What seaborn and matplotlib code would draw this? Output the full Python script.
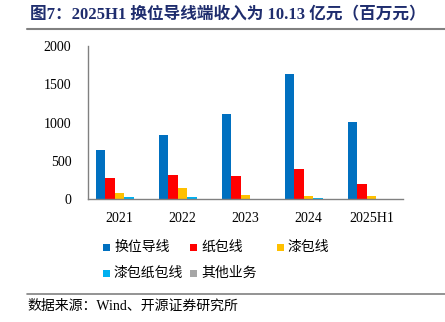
import matplotlib
matplotlib.use("Agg")
import matplotlib.pyplot as plt
import seaborn as sns
import pandas as pd
import numpy as np
from matplotlib.patches import Rectangle
from matplotlib.lines import Line2D

years = ["2021", "2022", "2023", "2024", "2025H1"]
series = ["换位导线", "纸包线", "漆包线", "漆包纸包线", "其他业务"]
v_huanwei = [637, 834, 1109, 1633, 1013]
v_zhibao = [271, 310, 297, 389, 201]
v_qibao = [79, 140, 48, 39, 35]
v_qbzb = [22, 30, 3, 13, 2]
v_other = [2, 2, 1, 1, 1]
colors = ["#0070C0", "#FF0000", "#FFC000", "#00B0F0", "#A6A6A6"]

values = [v_huanwei, v_zhibao, v_qibao, v_qbzb, v_other]
rows = []
for s, vals in zip(series, values):
    for y, v in zip(years, vals):
        rows.append({"year": y, "series": s, "value": v})
df = pd.DataFrame(rows)

sns.set_style("white")
CJK = ["Noto Sans CJK SC", "DejaVu Sans"]
SERIF_CJK = ["Liberation Serif", "Noto Sans CJK SC"]
plt.rcParams["font.family"] = CJK

W, H = 445, 322
fig = plt.figure(figsize=(W / 100, H / 100), dpi=100)
ax = fig.add_axes([88 / W, 1 - 199 / H, (403 - 88) / W, (199 - 46) / H])

sns.barplot(data=df, x="year", y="value", hue="series", order=years,
            hue_order=series, palette=colors, width=0.76, gap=0,
            saturation=1, linewidth=0, ax=ax, legend=False, errorbar=None)

ax.set_xlim(-0.5, 4.5)
ax.set_ylim(0, 2000)
ax.set_yticks([0, 500, 1000, 1500, 2000])
ax.set_xlabel("")
ax.set_ylabel("")
for sp in ["top", "right"]:
    ax.spines[sp].set_visible(False)
for sp in ["left", "bottom"]:
    ax.spines[sp].set_color("#808080")
    ax.spines[sp].set_linewidth(1.0)

ax.set_xticks(np.arange(-0.5, 5, 1.0), minor=True)
ax.tick_params(axis="x", which="major", length=0, pad=9)
ax.tick_params(axis="x", which="minor", length=3, direction="in", color="#808080", width=1)
ax.tick_params(axis="y", which="major", length=3, direction="in", color="#808080", width=1, pad=12)
for lab in ax.get_xticklabels() + ax.get_yticklabels():
    lab.set_fontfamily("Liberation Serif")
    lab.set_fontsize(10)
    lab.set_color("black")

# Title
fig.text(30 / W, 1 - 15 / H, "图7：2025H1 换位导线端收入为 10.13 亿元（百万元）",
         family=SERIF_CJK, fontsize=12, fontweight="bold", color="#1F2D6E",
         ha="left", va="center")
fig.add_artist(Line2D([27 / W, 1.0], [1 - 28.5 / H, 1 - 28.5 / H],
                      color="#808080", linewidth=1.5, transform=fig.transFigure))

# Legend (manual grid)
legend_pos = [(103, 247), (190, 247), (277, 247), (103, 273), (190, 273)]
for (lx, ly), s, c in zip(legend_pos, series, colors):
    fig.add_artist(Rectangle((lx / W, 1 - (ly + 3.5) / H), 7 / W, 7 / H,
                             facecolor=c, edgecolor="none", transform=fig.transFigure))
    fig.text((lx + 11) / W, 1 - ly / H, s, family=CJK, fontsize=10,
             color="black", ha="left", va="center")

# Footer
fig.add_artist(Line2D([27 / W, 1.0], [1 - 294 / H, 1 - 294 / H],
                      color="#808080", linewidth=1.2, transform=fig.transFigure))
fig.text(27 / W, 1 - 306 / H, "数据来源：Wind、开源证券研究所",
         family=SERIF_CJK, fontsize=10, color="black", ha="left", va="center")

fig.savefig("out.png", dpi=100)
